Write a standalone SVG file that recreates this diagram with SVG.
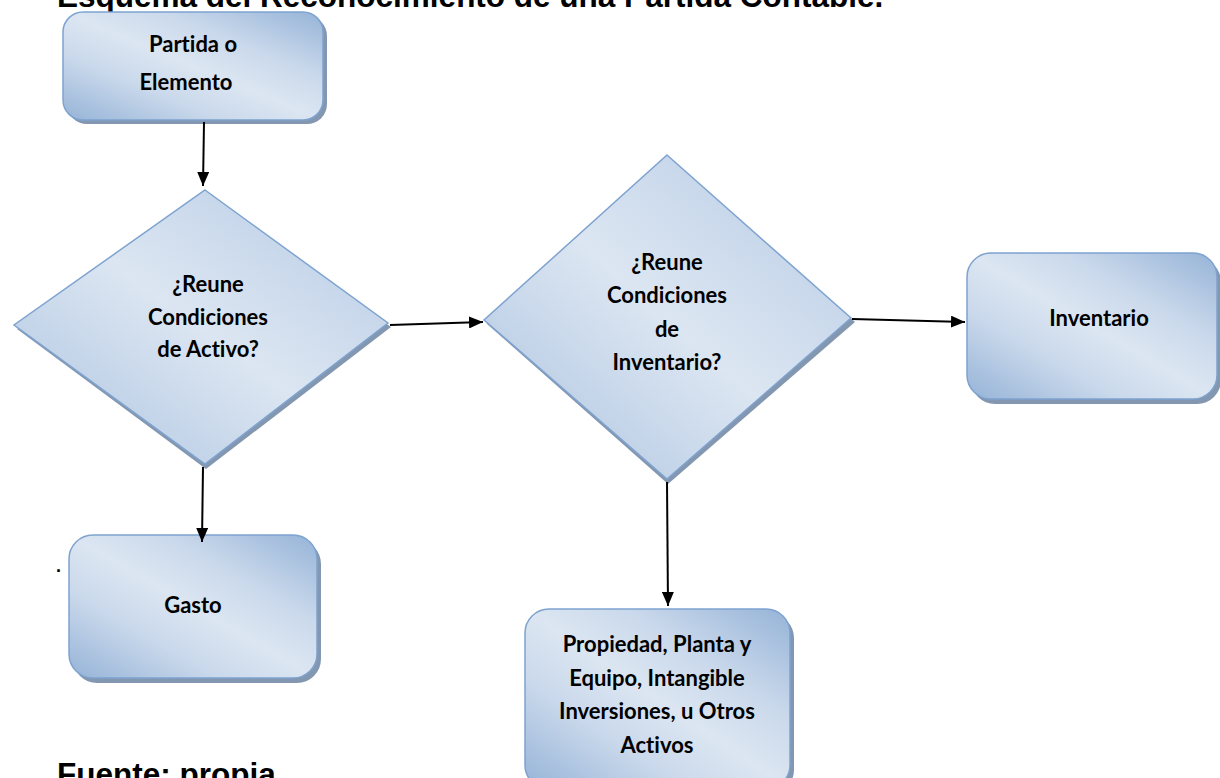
<svg xmlns="http://www.w3.org/2000/svg" width="1220" height="778" viewBox="0 0 1220 778">
<defs>
<linearGradient id="g" x1="0" y1="1" x2="1" y2="0">
<stop offset="0" stop-color="#95b3d7"/>
<stop offset="0.3" stop-color="#c9d8eb"/>
<stop offset="0.5" stop-color="#dce6f2"/>
<stop offset="0.7" stop-color="#c9d8eb"/>
<stop offset="1" stop-color="#95b3d7"/>
</linearGradient>
<linearGradient id="gd" x1="0" y1="1" x2="1" y2="0">
<stop offset="0" stop-color="#a9c1df"/>
<stop offset="0.5" stop-color="#dce6f2"/>
<stop offset="1" stop-color="#b4c9e4"/>
</linearGradient>
<marker id="a" viewBox="0 0 14 12" refX="14" refY="6" markerWidth="14" markerHeight="12" markerUnits="userSpaceOnUse" orient="auto">
<path d="M0,0 L14,6 L0,12 z" fill="#000"/>
</marker>
</defs>
<style>
.shape{fill:url(#g);stroke:#7ea3cf;stroke-width:1.5}
.dshape{fill:url(#gd);stroke:#7ea3cf;stroke-width:1.5}
.shadow{fill:#8497b0}
.lbl{font-family:Lato,"Liberation Sans",sans-serif;font-weight:bold;font-size:22px;fill:#000;text-anchor:middle;font-variant-ligatures:none}
.big{font-family:"Liberation Sans",Arial,sans-serif;font-weight:bold;font-size:31.5px;fill:#000}
.conn{stroke:#000;stroke-width:2;fill:none;marker-end:url(#a)}
</style>
<rect width="1220" height="778" fill="#fff"/>
<text class="big" x="57" y="7">Esquema del Reconocimiento de una Partida Contable.</text>
<text class="big" x="57" y="785">Fuente: propia</text>
<text x="56" y="572" style="font-family:'Liberation Sans',sans-serif;font-size:18px;font-weight:bold">.</text>

<g id="partida">
<rect class="shadow" x="67" y="16" width="260" height="108" rx="20"/>
<rect class="shape" x="63" y="12" width="260" height="108" rx="20"/>
<text class="lbl" x="193" y="52">Partida o</text>
<text class="lbl" x="186" y="90">Elemento</text>
</g>

<g id="activo">
<polygon class="shadow" points="206,194 391,327 206,469 17,329"/>
<polygon class="dshape" points="205,190 388,323 205,464 14,325"/>
<text class="lbl" x="208" y="292">¿Reune</text>
<text class="lbl" x="208" y="325">Condiciones</text>
<text class="lbl" x="208" y="357">de Activo?</text>
</g>

<g id="inventarioQ">
<polygon class="shadow" points="668,159 855,322 668,484 487,324"/>
<polygon class="dshape" points="667,155 851,318 667,479 484,320"/>
<text class="lbl" x="667" y="270">¿Reune</text>
<text class="lbl" x="667" y="303">Condiciones</text>
<text class="lbl" x="667" y="337">de</text>
<text class="lbl" x="667" y="370">Inventario?</text>
</g>

<g id="inventario">
<rect class="shadow" x="971" y="258" width="250" height="146" rx="24"/>
<rect class="shape" x="967" y="253" width="250" height="146" rx="24"/>
<text class="lbl" x="1099" y="326">Inventario</text>
</g>

<g id="gasto">
<rect class="shadow" x="73" y="540" width="248" height="143" rx="24"/>
<rect class="shape" x="69" y="535" width="248" height="143" rx="24"/>
<text class="lbl" x="193" y="613">Gasto</text>
</g>

<g id="propiedad">
<rect class="shadow" x="529" y="614" width="265" height="180" rx="24"/>
<rect class="shape" x="525" y="609" width="265" height="180" rx="24"/>
<text class="lbl" x="657" y="652">Propiedad, Planta y</text>
<text class="lbl" x="657" y="686">Equipo, Intangible</text>
<text class="lbl" x="657" y="719">Inversiones, u Otros</text>
<text class="lbl" x="657" y="753">Activos</text>
</g>

<g id="connectors">
<line class="conn" x1="204" y1="122" x2="203" y2="186"/>
<line class="conn" x1="390" y1="325" x2="483" y2="322"/>
<line class="conn" x1="852" y1="319" x2="965" y2="322"/>
<line class="conn" x1="203" y1="467" x2="202" y2="542"/>
<line class="conn" x1="667" y1="482" x2="668" y2="606"/>
</g>
</svg>
